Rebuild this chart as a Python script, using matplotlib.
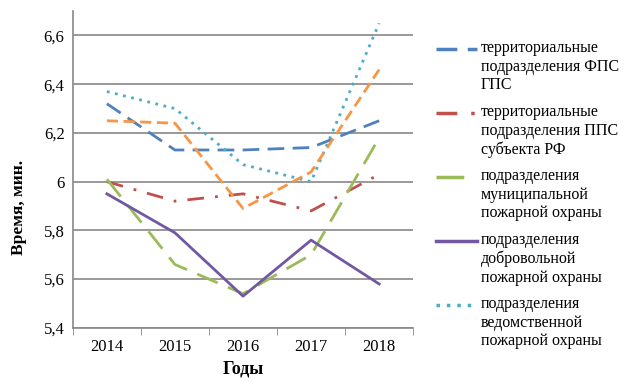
import matplotlib.pyplot as plt
from matplotlib.lines import Line2D

plt.rcParams['font.family'] = ['Liberation Serif', 'DejaVu Serif']

years = ['2014', '2015', '2016', '2017', '2018']

fps_gps = [6.32, 6.13, 6.13, 6.14, 6.25]
pps_rf = [6.00, 5.92, 5.95, 5.88, 6.03]
municipal = [6.01, 5.66, 5.54, 5.70, 6.18]
volunteer = [5.95, 5.79, 5.53, 5.76, 5.58]
departmental = [6.37, 6.30, 6.07, 6.00, 6.65]
other = [6.25, 6.24, 5.89, 6.04, 6.46]

labels = [
    'территориальные\nподразделения ФПС\nГПС',
    'территориальные\nподразделения ППС\nсубъекта РФ',
    'подразделения\nмуниципальной\nпожарной охраны',
    'подразделения\nдобровольной\nпожарной охраны',
    'подразделения\nведомственной\nпожарной охраны',
]

W, H = 628, 383
fig = plt.figure(figsize=(W / 100, H / 100), dpi=100)
ax = fig.add_axes([0.116, 0.144, 0.542, 0.827])

x = range(len(years))
lw = 2.0
styles = [
    dict(color='#4F81BD', dashes=(6, 3)),
    dict(color='#C0504D', dashes=(6, 4, 1, 4)),
    dict(color='#9BBB59', dashes=(8, 4)),
    dict(color='#7158A0'),
    dict(color='#4BACC6', dashes=(1, 2)),
]
series = [fps_gps, pps_rf, municipal, volunteer, departmental]
for s, st in zip(series, styles):
    ax.plot(x, s, lw=lw, **st)
ax.plot(x, other, color='#F79646', lw=lw, dashes=(4, 2))

ax.set_xlim(-0.5, 4.5)
ax.set_ylim(5.4, 6.7)
ax.set_yticks([5.4, 5.6, 5.8, 6.0, 6.2, 6.4, 6.6])
ax.set_yticklabels(['5,4', '5,6', '5,8', '6', '6,2', '6,4', '6,6'], fontsize=12)
ax.set_xticks(list(x))
ax.set_xticklabels(years, fontsize=12)
ax.set_xticks([i - 0.5 for i in range(6)], minor=True)
ax.tick_params(axis='x', which='major', length=0, pad=8)
ax.tick_params(axis='x', which='minor', length=5, color='#888888')
ax.tick_params(axis='y', length=0, pad=6)
ax.grid(axis='y', color='#888888', lw=1.2)
ax.set_axisbelow(True)
for s in ['top', 'right']:
    ax.spines[s].set_visible(False)
for s in ['left', 'bottom']:
    ax.spines[s].set_color('#888888')
    ax.spines[s].set_linewidth(1.2)

ax.set_xlabel('Годы', fontsize=13, fontweight='bold', labelpad=4)
ax.set_ylabel('Время, мин.', fontsize=12.5, fontweight='bold')
ax.yaxis.set_label_coords(-0.135, 0.38)

# legend drawn by hand so the key sits on the first text line
for i, (lab, st) in enumerate(zip(labels, styles)):
    yc = 49 + 64 * i
    fig.add_artist(Line2D([436 / W, 477 / W], [1 - yc / H, 1 - yc / H],
                          transform=fig.transFigure, lw=2.5, **st))
    fig.text(481 / W, 1 - (yc - 9) / H, lab, fontsize=11.5, va='top',
             ha='left', linespacing=1.22)

fig.savefig('out.png', dpi=100)
